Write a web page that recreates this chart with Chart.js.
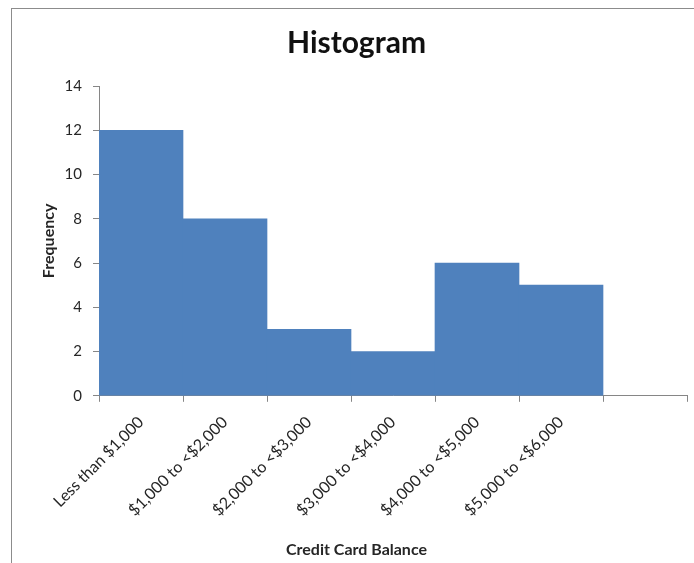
<!DOCTYPE html>
<html>
<head>
<meta charset="utf-8">
<script src="https://cdn.jsdelivr.net/npm/chart.js@4.4.1/dist/chart.umd.min.js"></script>
<style>
  html, body { margin: 0; padding: 0; background: #fff; overflow: hidden; }
  #frame {
    position: absolute; left: 11px; top: 8px; width: 720px; height: 600px;
    border-left: 1px solid #8c8c8c; border-top: 1px solid #8c8c8c;
  }
  #wrap { position: absolute; left: 0; top: 0; width: 694px; height: 563px; }
</style>
</head>
<body>
<div id="frame"></div>
<div id="wrap"><canvas id="myChart"></canvas></div>
<script>
// bins of the histogram (the last slot is empty, as in the original sheet)
const categories = [
  "Less than $1,000",
  "$1,000 to <$2,000",
  "$2,000 to <$3,000",
  "$3,000 to <$4,000",
  "$4,000 to <$5,000",
  "$5,000 to <$6,000",
  ""
];
const frequencies = [12, 8, 3, 2, 6, 5, null];
const yTicks = [0, 2, 4, 6, 8, 10, 12, 14];

const fontFamily = "Lato, 'Open Sans', sans-serif";
const axisColor = "#868686";
const textColor = "#262626";

const ctx = document.querySelector("#myChart").getContext("2d");

const histChart = new Chart(ctx, {
  type: "bar",
  data: {
    labels: categories,
    datasets: [
      {
        label: "Frequency",
        data: frequencies,
        backgroundColor: "#4F81BD",
        borderWidth: 0,
        barPercentage: 1.0,
        categoryPercentage: 1.0
      }
    ]
  },
  options: {
    responsive: true,
    maintainAspectRatio: false,
    animation: false,
    layout: { padding: { left: 26, right: 7, top: 0, bottom: 0 } },
    plugins: {
      legend: { display: false },
      tooltip: { enabled: false },
      title: {
        display: true,
        text: "Histogram",
        color: "#111111",
        font: { family: fontFamily, size: 30, weight: "bold" },
        padding: { top: 25, bottom: 25 }
      },
      subtitle: {
        display: true,
        position: "bottom",
        text: "Credit Card Balance",
        color: textColor,
        font: { family: fontFamily, size: 16, weight: "bold" },
        padding: { top: 10, bottom: 4 }
      }
    },
    scales: {
      x: {
        offset: true,
        grid: {
          offset: true,
          drawOnChartArea: false,
          tickLength: 6,
          color: axisColor
        },
        border: { color: axisColor },
        ticks: {
          autoSkip: false,
          minRotation: 45,
          maxRotation: 45,
          padding: 11,
          labelOffset: 0,
          color: textColor,
          font: { family: fontFamily, size: 16 }
        },
        afterFit: (scale) => { scale.height = 134; }
      },
      y: {
        min: 0,
        max: 14,
        afterBuildTicks: (scale) => {
          scale.ticks = yTicks.map((v) => ({ value: v }));
        },
        grid: {
          drawOnChartArea: false,
          tickLength: 6,
          color: axisColor
        },
        border: { color: axisColor },
        ticks: {
          padding: 11,
          color: textColor,
          font: { family: fontFamily, size: 15 }
        },
        title: {
          display: true,
          text: "Frequency",
          color: textColor,
          font: { family: fontFamily, size: 16, weight: "bold" },
          padding: { top: 13, bottom: 0 }
        },
        afterFit: (scale) => { scale.width = 73; }
      }
    }
  }
});
</script>
</body>
</html>
